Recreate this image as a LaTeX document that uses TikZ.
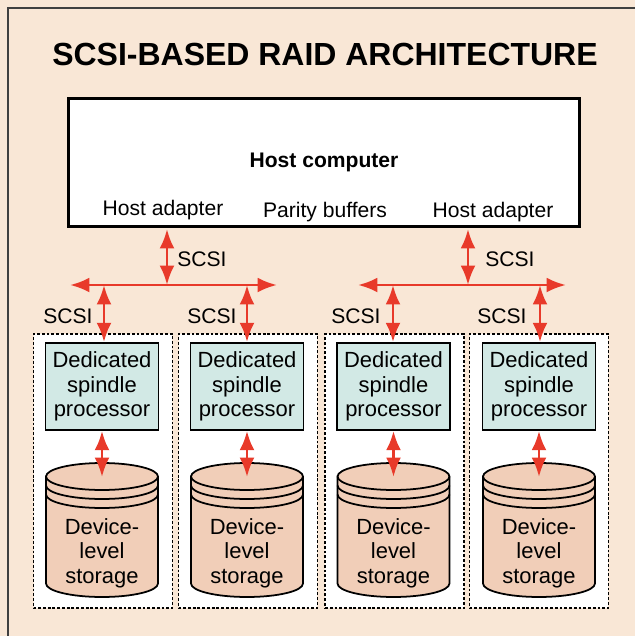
\documentclass[tikz,border=0pt]{standalone}
\usepackage{fontspec}
\setmainfont{Liberation Sans}
\usetikzlibrary{arrows.meta,positioning,calc}
\definecolor{paper}{RGB}{249,231,214}
\definecolor{scsired}{RGB}{232,58,42}
\definecolor{proccyan}{RGB}{210,233,229}
\definecolor{diskpeach}{RGB}{241,206,184}

\begin{document}
\begin{tikzpicture}[x=0.02cm,y=-0.02cm,every node/.style={font=\fontsize{12}{14}\selectfont},
  link/.style={{Latex[length=11pt,width=8.5pt]}-{Latex[length=11pt,width=8.5pt]},scsired,line width=1.7pt},
  column/.style={draw,dash pattern=on 1.6pt off 1.1pt,line width=0.9pt,fill=white,minimum width=2.78cm,minimum height=5.48cm,inner sep=0pt},
  proc/.style={draw,line width=1pt,fill=proccyan,minimum width=2.26cm,minimum height=1.74cm,inner sep=0pt,align=center,font=\fontsize{12.5}{13.8}\selectfont},
  disktext/.style={align=center,font=\fontsize{12.5}{14}\selectfont}]
  \useasboundingbox (0,0) rectangle (635,636);
  \fill[paper] (0,0) rectangle (635,636);
  \draw[line width=0.8pt,black!75] (8,636) -- (8,8) -- (635,8);

  \node[font=\bfseries\fontsize{18.2}{22}\selectfont] (title) at (325,54) {SCSI-BASED RAID ARCHITECTURE};

  % host side
  \node[draw,line width=1.7pt,fill=white,minimum width=10.24cm,minimum height=2.58cm,inner sep=0pt] (host) at (324,162.5) {\textbf{Host computer}};
  \node (adl) at (163,210) {Host adapter};
  \node (par) at (325,212) {Parity buffers};
  \node (adr) at (493,212) {Host adapter};

  % dotted columns, processors and disks
  \node[column] (col1) at (103,471) {};
  \node[column] (col2) at (248,471) {};
  \node[column] (col3) at (394.5,471) {};
  \node[column] (col4) at (539,471) {};
  \node[proc] (proc1) at (102,386.5) {Dedicated\\spindle\\processor};
  \node[proc] (proc2) at (247,386.5) {Dedicated\\spindle\\processor};
  \node[proc] (proc3) at (393.5,386.5) {Dedicated\\spindle\\processor};
  \node[proc] (proc4) at (539,386.5) {Dedicated\\spindle\\processor};

  \foreach \cx in {102,247,393.5,539}{
    \filldraw[fill=diskpeach,line width=1pt] (\cx-56,476.5) -- (\cx-56,583.5)
      arc[start angle=180,end angle=360,x radius=1.12cm,y radius=0.27cm] -- (\cx+56,476.5)
      arc[start angle=0,end angle=180,x radius=1.12cm,y radius=0.27cm] -- cycle;
    \foreach \dy in {0,9,18}
      \draw[line width=1pt] (\cx-56,476.5+\dy) arc[start angle=180,end angle=360,x radius=1.12cm,y radius=0.27cm];
  }
  \node[disktext] (disk1) at (102,553) {Device-\\level\\storage};
  \node[disktext] (disk2) at (247,553) {Device-\\level\\storage};
  \node[disktext] (disk3) at (393.5,553) {Device-\\level\\storage};
  \node[disktext] (disk4) at (539,553) {Device-\\level\\storage};
  \coordinate (top1) at (102,477);
  \coordinate (top2) at (247,477);
  \coordinate (top3) at (393.5,477);
  \coordinate (top4) at (539,477);

  % SCSI buses
  \coordinate (up1) at (167,229);
  \coordinate (hub1) at (167,285);
  \coordinate (w1) at (70,285);
  \coordinate (e1) at (277,285);
  \coordinate (t1) at (104,285);
  \coordinate (t2) at (247,285);
  \coordinate (up2) at (468,229);
  \coordinate (hub2) at (468,285);
  \coordinate (w2) at (358,285);
  \coordinate (e2) at (566,285);
  \coordinate (t3) at (393,285);
  \coordinate (t4) at (540,285);
  \draw[link] (w1) -- (e1);
  \draw[link] (w2) -- (e2);
  \draw[link] (up1) -- (hub1);
  \draw[link] (up2) -- (hub2);
  \draw[link] (t1) -- (t1 |- proc1.north);
  \draw[link] (t2) -- (t2 |- proc2.north);
  \draw[link] (t3) -- (t3 |- proc3.north);
  \draw[link] (t4) -- (t4 |- proc4.north);
  \draw[link] (proc1.south) -- (top1);
  \draw[link] (proc2.south) -- (top2);
  \draw[link] (proc3.south) -- (top3);
  \draw[link] (proc4.south) -- (top4);

  \node (scsi1) at (202,259) {SCSI};
  \node (scsi2) at (510,259) {SCSI};
  \node (scsi3) at (68,316) {SCSI};
  \node (scsi4) at (212,316) {SCSI};
  \node (scsi5) at (356,316) {SCSI};
  \node (scsi6) at (502,316) {SCSI};
\end{tikzpicture}
\end{document}
